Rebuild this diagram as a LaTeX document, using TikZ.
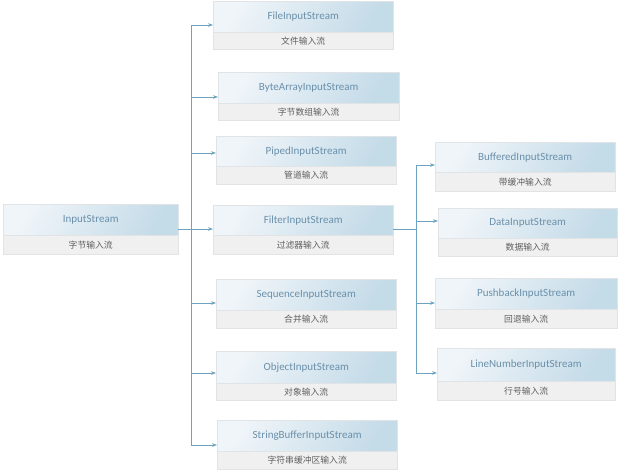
\documentclass[tikz,border=0pt]{standalone}
\usepackage{fontspec}
\setmainfont{Carlito}
\newfontfamily\cjk{Noto Sans CJK SC}
\usetikzlibrary{arrows.meta,shadows}
\definecolor{hdL}{HTML}{F0F5F9}
\definecolor{hdR}{HTML}{C4DBE8}
\definecolor{subF}{HTML}{F0F0F0}
\definecolor{edgeC}{HTML}{E0E4E7}
\definecolor{lineC}{HTML}{6DA3BE}
\definecolor{ttlC}{HTML}{6A90AB}
\definecolor{subT}{HTML}{5F5F5F}
\tikzset{
  hdbox/.style={draw=edgeC, line width=0.4pt, left color=hdL, right color=hdR, shading angle=60,
    inner sep=0pt, anchor=north west, text=ttlC, font=\fontsize{11}{13}\selectfont,
    drop shadow={shadow xshift=1pt, shadow yshift=-1pt, opacity=0.15, fill=black!60}},
  subbox/.style={draw=edgeC, line width=0.4pt, fill=subF, inner sep=0pt, anchor=north west,
    text=subT, font=\cjk\fontsize{8.8}{10}\selectfont,
    drop shadow={shadow xshift=1pt, shadow yshift=-1pt, opacity=0.15, fill=black!60}},
  conn/.style={draw=lineC, line width=0.65pt},
  arr/.style={conn, -{Stealth[length=5pt,width=3.6pt]}}
}
% \ibox{name}{x1}{y1}{x2}{ymid}{y2}{title}{sub}
\newcommand\ibox[8]{%
  \node[hdbox, minimum width=#4pt-#2pt, minimum height=#5pt-#3pt] (#1) at (#2,#3) {#7};
  \node[subbox, minimum width=#4pt-#2pt, minimum height=#6pt-#5pt] (#1s) at (#2,#5) {#8};
}
\begin{document}
\begin{tikzpicture}[x=1pt,y=-1pt]
\useasboundingbox (0,0) rectangle (619,470);
\ibox{is}{3}{204}{178}{235}{254}{InputStream}{字节输入流}
\ibox{fis}{213}{1}{393}{32}{49}{FileInputStream}{文件输入流}
\ibox{bais}{218}{72}{399}{103}{120}{ByteArrayInputStream}{字节数组输入流}
\ibox{pis}{216}{136}{396}{166}{184}{PipedInputStream}{管道输入流}
\ibox{filt}{213}{205}{393}{235}{254}{FilterInputStream}{过滤器输入流}
\ibox{sis}{216}{279}{396}{310}{328}{SequenceInputStream}{合并输入流}
\ibox{ois}{216}{351}{396}{383}{400}{ObjectInputStream}{对象输入流}
\ibox{sbis}{217}{420}{397}{451}{469}{StringBufferInputStream}{字符串缓冲区输入流}
\ibox{bis}{435}{142}{615}{172}{191}{BufferedInputStream}{带缓冲输入流}
\ibox{dis}{438}{208}{617}{238}{256}{DataInputStream}{数据输入流}
\ibox{pbis}{435}{278}{617}{309}{328}{PushbackInputStream}{回退输入流}
\ibox{lnis}{437}{348}{615}{381}{400}{LineNumberInputStream}{行号输入流}
% left trunk
\coordinate (t1) at (191,25);
\coordinate (t2) at (191,97);
\coordinate (t3) at (191,153);
\coordinate (t4) at (191,229);
\coordinate (t5) at (191,303);
\coordinate (t6) at (191,373);
\coordinate (t7) at (191,445);
\draw[conn] (t1) -- (t7);
\draw[conn] (is.east |- t4) -- (t4);
\draw[arr] (t1) -- (t1 -| fis.west);
\draw[arr] (t2) -- (t2 -| bais.west);
\draw[arr] (t3) -- (t3 -| pis.west);
\draw[arr] (t4) -- (t4 -| filt.west);
\draw[arr] (t5) -- (t5 -| sis.west);
\draw[arr] (t6) -- (t6 -| ois.west);
\draw[arr] (t7) -- (t7 -| sbis.west);
% right trunk
\coordinate (r0) at (416,229);
\coordinate (r1) at (416,165);
\coordinate (r2) at (416,221);
\coordinate (r3) at (416,303);
\coordinate (r4) at (416,373);
\draw[conn] (r1) -- (r4);
\draw[conn] (filt.east |- r0) -- (r0);
\draw[arr] (r1) -- (r1 -| bis.west);
\draw[arr] (r2) -- (r2 -| dis.west);
\draw[arr] (r3) -- (r3 -| pbis.west);
\draw[arr] (r4) -- (r4 -| lnis.west);
\end{tikzpicture}
\end{document}
